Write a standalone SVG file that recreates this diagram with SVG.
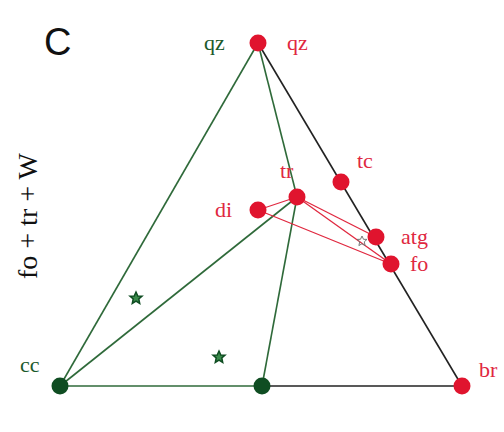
<svg xmlns="http://www.w3.org/2000/svg" width="504" height="432" viewBox="0 0 504 432">
<style>
.g{stroke:#2f6a3a;stroke-width:1.6;fill:none}
.k{stroke:#222;stroke-width:1.6;fill:none}
.r{stroke:#e0283f;stroke-width:1.3;fill:none}
.rd{fill:#e0142e}
.gd{fill:#0f4d22}
.rt{fill:#e0283f;font-family:"Liberation Serif",serif;font-size:22px}
.gt{fill:#1c5a2c;font-family:"Liberation Serif",serif;font-size:22px}
.st{fill:#3a8a4a;stroke:#0f4d22;stroke-width:1.5}
</style>
<rect width="504" height="432" fill="#fff"/>
<g id="connectors">
<line class="k" x1="258" y1="43" x2="462" y2="386"/>
<line class="k" x1="262" y1="386" x2="462" y2="386"/>
<line class="g" x1="258" y1="43" x2="60" y2="386"/>
<line class="g" x1="60" y1="386" x2="262" y2="386"/>
<line class="g" x1="258" y1="43" x2="297" y2="197"/>
<line class="g" x1="297" y1="197" x2="262" y2="386"/>
<line class="g" x1="60" y1="386" x2="297" y2="197"/>
<line class="r" x1="258" y1="210" x2="297" y2="197"/>
<line class="r" x1="258" y1="210" x2="391" y2="264"/>
<line class="r" x1="297" y1="197" x2="376" y2="237"/>
<line class="r" x1="297" y1="197" x2="391" y2="264"/>
</g>
<g id="stars">
<polygon class="st" transform="translate(136,298)" points="0,-6 1.8,-2 6,-1.9 2.8,1 3.7,5.5 0,3.2 -3.7,5.5 -2.8,1 -6,-1.9 -1.8,-2"/>
<polygon class="st" transform="translate(219,357)" points="0,-6 1.8,-2 6,-1.9 2.8,1 3.7,5.5 0,3.2 -3.7,5.5 -2.8,1 -6,-1.9 -1.8,-2"/>
<polygon transform="translate(362,241)" fill="none" stroke="#777" stroke-width="1" points="0,-5 1.5,-1.7 5,-1.6 2.3,0.8 3.1,4.6 0,2.7 -3.1,4.6 -2.3,0.8 -5,-1.6 -1.5,-1.7"/>
</g>
<g id="qz"><circle class="rd" cx="258" cy="43" r="8.5"/><text class="gt" x="204" y="50">qz</text><text class="rt" x="287" y="50">qz</text></g>
<g id="tr"><circle class="rd" cx="297" cy="197" r="8.5"/><text class="rt" x="280" y="178">tr</text></g>
<g id="di"><circle class="rd" cx="258" cy="210" r="8.5"/><text class="rt" x="215" y="217">di</text></g>
<g id="tc"><circle class="rd" cx="341" cy="182" r="8.5"/><text class="rt" x="357" y="168">tc</text></g>
<g id="atg"><circle class="rd" cx="376" cy="237" r="8.5"/><text class="rt" x="401" y="244">atg</text></g>
<g id="fo"><circle class="rd" cx="391" cy="264" r="8.5"/><text class="rt" x="410" y="271">fo</text></g>
<g id="cc"><circle class="gd" cx="60" cy="386" r="8.5"/><text class="gt" x="20" y="372">cc</text></g>
<g id="mid"><circle class="gd" cx="262" cy="386" r="8.5"/></g>
<g id="br"><circle class="rd" cx="462" cy="386" r="8.5"/><text class="rt" x="479" y="377">br</text></g>
<text x="44" y="55" font-family="Liberation Sans,sans-serif" font-size="38" fill="#111">C</text>
<text transform="translate(37,279) rotate(-90)" font-family="Liberation Serif,serif" font-size="28" fill="#111">fo + tr + W</text>
</svg>
